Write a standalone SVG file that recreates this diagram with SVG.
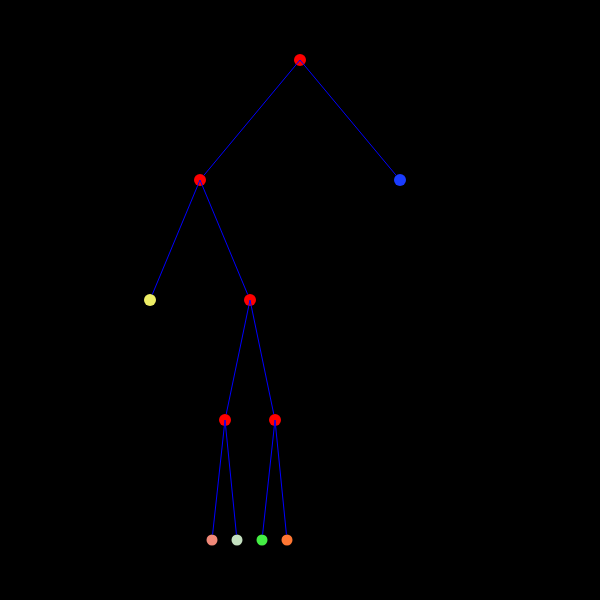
<svg xmlns="http://www.w3.org/2000/svg" width="600" height="600" viewBox="0 0 600 600">
<style>
.edge{stroke:#0000ff;stroke-width:1;fill:none}
.inner{fill:#ff0000}
</style>
<rect x="0" y="0" width="600" height="600" fill="#000000"/>
<g id="nodes">
<g id="n0"><circle class="inner" cx="300" cy="60" r="6"/></g>
<g id="n1"><circle class="inner" cx="200" cy="180" r="6"/></g>
<g id="n2"><circle cx="400" cy="180" r="6" fill="#1a3cff"/></g>
<g id="n3"><circle cx="150" cy="300" r="6" fill="#eeee66"/></g>
<g id="n4"><circle class="inner" cx="250" cy="300" r="6"/></g>
<g id="n5"><circle class="inner" cx="225" cy="420" r="6"/></g>
<g id="n6"><circle class="inner" cx="275" cy="420" r="6"/></g>
<g id="n7"><circle cx="212" cy="540" r="5.5" fill="#f08878"/></g>
<g id="n8"><circle cx="237" cy="540" r="5.5" fill="#c4e0c0"/></g>
<g id="n9"><circle cx="262" cy="540" r="5.5" fill="#44ee44"/></g>
<g id="n10"><circle cx="287" cy="540" r="5.5" fill="#ff7733"/></g>
</g>
<g id="connectors">
<line class="edge" x1="300" y1="60" x2="203.84" y2="175.39"/>
<line class="edge" x1="300" y1="60" x2="396.16" y2="175.39"/>
<line class="edge" x1="200" y1="180" x2="152.31" y2="294.46"/>
<line class="edge" x1="200" y1="180" x2="247.69" y2="294.46"/>
<line class="edge" x1="250" y1="300" x2="226.22" y2="414.13"/>
<line class="edge" x1="250" y1="300" x2="273.78" y2="414.13"/>
<line class="edge" x1="225" y1="420" x2="212.59" y2="534.53"/>
<line class="edge" x1="225" y1="420" x2="236.45" y2="534.53"/>
<line class="edge" x1="275" y1="420" x2="262.59" y2="534.53"/>
<line class="edge" x1="275" y1="420" x2="286.45" y2="534.53"/>
</g>
</svg>
